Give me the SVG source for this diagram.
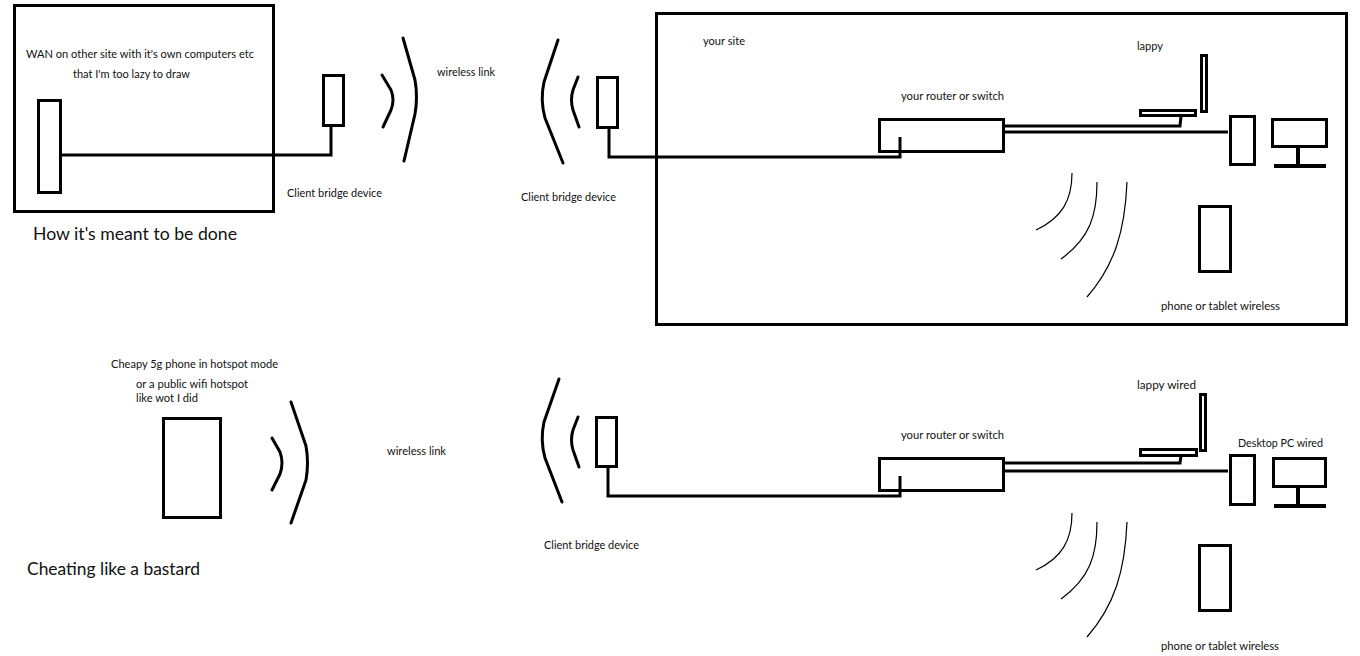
<svg xmlns="http://www.w3.org/2000/svg" width="1360" height="656" viewBox="0 0 1360 656">
<style>
.b{fill:none;stroke:#000;stroke-width:3}
.w{fill:none;stroke:#000;stroke-width:3;stroke-linejoin:miter}
.a{fill:none;stroke:#000;stroke-width:3;stroke-linecap:round;stroke-linejoin:round}
.t{fill:none;stroke:#000;stroke-width:1.2}
.s{fill:none;stroke:#000;stroke-width:4}
text{font-family:Lato,"Liberation Sans",sans-serif;fill:#111}
.sm{font-size:11px}
.lg{font-size:18px}
</style>
<rect width="1360" height="656" fill="#fff"/>
<g id="connectors">
<polyline class="w" points="62,155 331,155 331,127"/>
<polyline class="w" points="609,129 609,157 900,157 900,137"/>
<polyline class="w" points="1005,126 1180,126 1181,116"/>
<polyline class="w" points="1005,132 1228,132"/>
<polyline class="w" points="608,468 608,496 900,496 900,476"/>
<polyline class="w" points="1005,463 1180,463 1181,456"/>
<polyline class="w" points="1005,471 1228,471"/>
</g>
<g id="wan-site">
<rect class="b" x="14.5" y="5.5" width="259" height="206"/>
<text class="sm" x="26" y="58" textLength="228" lengthAdjust="spacingAndGlyphs">WAN on other site  with it's own computers etc</text>
<text class="sm" x="73" y="78" textLength="117" lengthAdjust="spacingAndGlyphs">that I'm too lazy to draw</text>
</g>
<g id="wan-device"><rect class="b" x="38.5" y="100.5" width="22" height="92"/></g>
<g id="caption-top"><text class="lg" x="33" y="240" textLength="204" lengthAdjust="spacingAndGlyphs">How it's meant to be done</text></g>
<g id="bridge-left">
<rect class="b" x="323.5" y="75.5" width="20" height="50"/>
<text class="sm" x="287" y="197" textLength="95" lengthAdjust="spacingAndGlyphs">Client bridge device</text>
</g>
<g id="wave-left-top">
<path class="a" d="M382,75 L391,90 Q395,100 391,110 L383,127"/>
<path class="a" d="M403,38 L415,80 Q418,97 415,114 L404,161"/>
</g>
<g id="label-wireless-top"><text class="sm" x="437" y="76" textLength="58" lengthAdjust="spacingAndGlyphs">wireless link</text></g>
<g id="wave-right-top">
<path class="a" d="M558,40 L544,82 Q540,100 545,118 L563,163"/>
<path class="a" d="M578,77 L573,90 Q570,100 573,110 L579,127"/>
</g>
<g id="bridge-right-top">
<rect class="b" x="597.5" y="77.5" width="20" height="50"/>
<text class="sm" x="521" y="201" textLength="95" lengthAdjust="spacingAndGlyphs">Client bridge device</text>
</g>
<g id="your-site">
<rect class="b" x="656.5" y="13.5" width="690" height="311"/>
<text class="sm" x="703" y="45" textLength="42" lengthAdjust="spacingAndGlyphs">your site</text>
</g>
<g id="router-top">
<rect class="b" x="879.5" y="119.5" width="124" height="32"/>
<text class="sm" x="901" y="100" textLength="103" lengthAdjust="spacingAndGlyphs">your router or switch</text>
</g>
<g id="laptop-top">
<rect class="b" x="1201.5" y="55.5" width="5" height="56"/>
<rect class="b" x="1140.5" y="110.5" width="55" height="5"/>
<text class="sm" x="1137" y="50" textLength="26" lengthAdjust="spacingAndGlyphs">lappy</text>
</g>
<g id="desktop-top">
<rect class="b" x="1230.5" y="116.5" width="24" height="48"/>
<rect class="b" x="1272.5" y="119.5" width="54" height="27"/>
<line class="s" x1="1298" y1="148" x2="1298" y2="166"/>
<line class="s" x1="1274" y1="166" x2="1326" y2="166"/>
</g>
<g id="waves-thin-top">
<path class="t" d="M1072,173 C1072,200 1062,218 1036,230"/>
<path class="t" d="M1097,182 C1097,215 1090,238 1061,259"/>
<path class="t" d="M1127,182 C1125,230 1115,265 1087,297"/>
</g>
<g id="phone-top">
<rect class="b" x="1199.5" y="206.5" width="31" height="65"/>
<text class="sm" x="1161" y="310" textLength="119" lengthAdjust="spacingAndGlyphs">phone or tablet  wireless</text>
</g>
<g id="hotspot">
<rect class="b" x="163.5" y="418.5" width="57" height="99"/>
<text class="sm" x="111" y="368" textLength="167" lengthAdjust="spacingAndGlyphs">Cheapy 5g phone in hotspot mode</text>
<text class="sm" x="136" y="388" textLength="112" lengthAdjust="spacingAndGlyphs">or a public wifi hotspot</text>
<text class="sm" x="136" y="402" textLength="62" lengthAdjust="spacingAndGlyphs">like wot I did</text>
</g>
<g id="wave-left-bottom">
<path class="a" d="M272,438 L280,452 Q284,463 280,474 L272,490"/>
<path class="a" d="M291,402 L306,446 Q309,463 306,480 L291,523"/>
</g>
<g id="label-wireless-bottom"><text class="sm" x="387" y="455" textLength="59" lengthAdjust="spacingAndGlyphs">wireless link</text></g>
<g id="caption-bottom"><text class="lg" x="27" y="575" textLength="173" lengthAdjust="spacingAndGlyphs">Cheating like a bastard</text></g>
<g id="wave-right-bottom">
<path class="a" d="M559,379 L544,422 Q540,440 545,458 L562,502"/>
<path class="a" d="M578,417 L573,430 Q570,440 573,450 L579,467"/>
</g>
<g id="bridge-bottom">
<rect class="b" x="596.5" y="417.5" width="20" height="49"/>
<text class="sm" x="544" y="549" textLength="95" lengthAdjust="spacingAndGlyphs">Client bridge device</text>
</g>
<g id="router-bottom">
<rect class="b" x="879.5" y="458.5" width="124" height="32"/>
<text class="sm" x="901" y="439" textLength="103" lengthAdjust="spacingAndGlyphs">your router or switch</text>
</g>
<g id="laptop-bottom">
<rect class="b" x="1200.5" y="394.5" width="5" height="56"/>
<rect class="b" x="1140.5" y="449.5" width="56" height="6"/>
<text class="sm" x="1137" y="389" textLength="59" lengthAdjust="spacingAndGlyphs">lappy  wired</text>
</g>
<g id="desktop-bottom">
<rect class="b" x="1230.5" y="455.5" width="24" height="49"/>
<rect class="b" x="1273.5" y="458.5" width="52" height="28"/>
<line class="s" x1="1298" y1="488" x2="1298" y2="505"/>
<line class="s" x1="1274" y1="506" x2="1326" y2="506"/>
<text class="sm" x="1238" y="447" textLength="85" lengthAdjust="spacingAndGlyphs">Desktop PC wired</text>
</g>
<g id="waves-thin-bottom">
<path class="t" d="M1072,513 C1072,540 1062,558 1036,570"/>
<path class="t" d="M1097,522 C1097,555 1090,578 1061,599"/>
<path class="t" d="M1127,522 C1125,570 1115,605 1087,637"/>
</g>
<g id="phone-bottom">
<rect class="b" x="1199.5" y="545.5" width="31" height="65"/>
<text class="sm" x="1161" y="650" textLength="118" lengthAdjust="spacingAndGlyphs">phone or tablet wireless</text>
</g>
</svg>
